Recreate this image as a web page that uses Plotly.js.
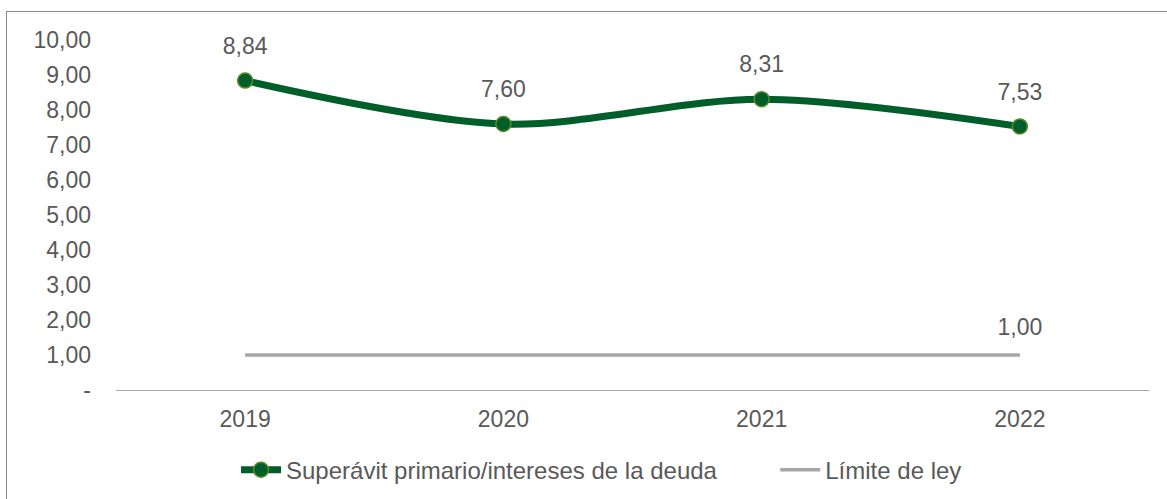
<!DOCTYPE html>
<html><head><meta charset="utf-8">
<script src="https://cdn.plot.ly/plotly-3.0.1.min.js"></script>
<style>
html,body{margin:0;padding:0;background:#fff;}
#chart{width:1167px;height:499px;position:relative;}
#frame{position:absolute;left:6px;top:11px;width:1300px;height:700px;border:1px solid #8c8c8c;pointer-events:none;}
</style></head>
<body>
<div id="chart"></div>
<div id="frame"></div>
<script>
const years = ['2019', '2020', '2021', '2022'];
const superavit = [8.84, 7.60, 8.31, 7.53];
const limite = [1.00, 1.00, 1.00, 1.00];
const superavitLabels = ['8,84', '7,60', '8,31', '7,53'];
const limiteLabels = ['', '', '', '1,00'];
const yTickVals = [0, 1, 2, 3, 4, 5, 6, 7, 8, 9, 10];
const yTickText = ['-', '1,00', '2,00', '3,00', '4,00', '5,00', '6,00', '7,00', '8,00', '9,00', '10,00'];
const seriesNames = ['Superávit primario/intereses de la deuda', 'Límite de ley'];

const txt = '#595959';
const fnt = 'Liberation Sans, Arial, sans-serif';
const fs = 23;

const traces = [
  {
    x: years, y: superavit, name: seriesNames[0] + '\u00a0'.repeat(8),
    type: 'scatter', mode: 'lines+markers',
    line: {color: '#005E2B', width: 7, shape: 'spline', smoothing: 0.9},
    marker: {color: '#005E2B', size: 15, line: {color: '#5B8A27', width: 1.5}},
    hoverinfo: 'skip'
  },
  {
    x: years, y: limite, name: seriesNames[1],
    type: 'scatter', mode: 'lines',
    line: {color: '#A6A6A6', width: 3.5},
    hoverinfo: 'skip'
  },
  {
    x: years, y: superavit, text: superavitLabels, type: 'scatter', mode: 'markers+text',
    textposition: 'top center', textfont: {size: fs, color: txt, family: fnt}, cliponaxis: false,
    marker: {size: 32, opacity: 0}, showlegend: false, hoverinfo: 'skip'
  },
  {
    x: years, y: limite, text: limiteLabels, type: 'scatter', mode: 'markers+text',
    textposition: 'top center', textfont: {size: fs, color: txt, family: fnt}, cliponaxis: false,
    marker: {size: 22, opacity: 0}, showlegend: false, hoverinfo: 'skip'
  }
];

const layout = {
  width: 1167, height: 499,
  margin: {l: 116, r: 18, t: 40, b: 109, autoexpand: false},
  paper_bgcolor: '#fff', plot_bgcolor: '#fff',
  separators: ', ',
  font: {family: fnt, size: fs, color: txt},
  showlegend: true,
  legend: {orientation: 'h', x: 0.470, xanchor: 'center', y: -0.229, yanchor: 'middle',
    font: {size: 24, color: txt, family: fnt}, itemwidth: 40, traceorder: 'normal'},
  xaxis: {type: 'category', showgrid: false, zeroline: false,
    showline: true, linecolor: '#A6A6A6', linewidth: 1.2,
    ticks: '', ticklabelstandoff: 8, tickfont: {size: fs, color: txt},
    range: [-0.5, 3.5], fixedrange: true, automargin: false},
  yaxis: {range: [0, 10], tickvals: yTickVals, ticktext: yTickText,
    showgrid: false, zeroline: false, showline: false, ticks: '',
    ticklabelstandoff: 24, tickfont: {size: fs, color: txt}, fixedrange: true, automargin: false}
};

Plotly.newPlot('chart', traces, layout, {displayModeBar: false, staticPlot: true});
</script>
</body></html>
